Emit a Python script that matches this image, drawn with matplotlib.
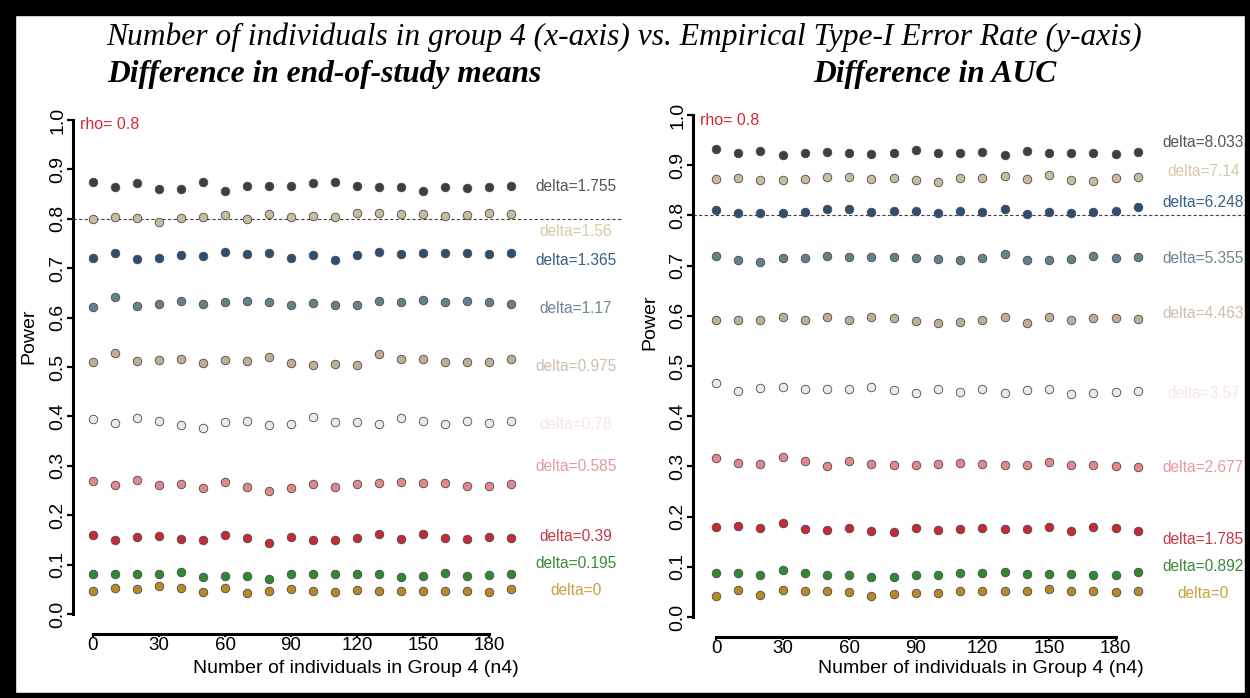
import numpy as np
import matplotlib
matplotlib.use("Agg")
import matplotlib.pyplot as plt
from matplotlib.patches import Rectangle

plt.rcParams['font.family'] = ['Liberation Sans', 'DejaVu Sans']

# sample size of group 4
n4 = [0, 10, 20, 30, 40, 50, 60, 70, 80, 90, 100, 110, 120, 130, 140, 150, 160, 170, 180, 190]

# empirical power, difference in end-of-study means
mean_deltas = ["0", "0.195", "0.39", "0.585", "0.78", "0.975", "1.17", "1.365", "1.56", "1.755"]
mean_d0 = [0.047, 0.052, 0.051, 0.056, 0.052, 0.045, 0.053, 0.043, 0.047, 0.051, 0.047, 0.045, 0.049, 0.047, 0.047, 0.047, 0.047, 0.047, 0.045, 0.050]
mean_d0195 = [0.080, 0.081, 0.080, 0.081, 0.085, 0.074, 0.077, 0.077, 0.071, 0.081, 0.081, 0.080, 0.081, 0.080, 0.074, 0.076, 0.082, 0.076, 0.079, 0.080]
mean_d039 = [0.159, 0.149, 0.156, 0.157, 0.152, 0.149, 0.159, 0.154, 0.144, 0.155, 0.150, 0.150, 0.154, 0.161, 0.152, 0.162, 0.153, 0.152, 0.156, 0.154]
mean_d0585 = [0.269, 0.261, 0.271, 0.261, 0.263, 0.256, 0.267, 0.257, 0.250, 0.256, 0.263, 0.258, 0.263, 0.265, 0.268, 0.265, 0.265, 0.259, 0.259, 0.264]
mean_d078 = [0.395, 0.387, 0.397, 0.390, 0.383, 0.377, 0.389, 0.390, 0.382, 0.384, 0.398, 0.388, 0.388, 0.385, 0.396, 0.391, 0.385, 0.390, 0.386, 0.390]
mean_d0975 = [0.510, 0.528, 0.512, 0.515, 0.516, 0.509, 0.514, 0.512, 0.520, 0.509, 0.505, 0.506, 0.505, 0.526, 0.516, 0.516, 0.510, 0.510, 0.510, 0.517]
mean_d117 = [0.621, 0.642, 0.623, 0.627, 0.634, 0.627, 0.632, 0.634, 0.632, 0.626, 0.630, 0.626, 0.626, 0.634, 0.631, 0.636, 0.631, 0.634, 0.631, 0.627]
mean_d1365 = [0.720, 0.731, 0.719, 0.721, 0.727, 0.725, 0.733, 0.729, 0.731, 0.721, 0.727, 0.717, 0.727, 0.733, 0.729, 0.730, 0.731, 0.730, 0.729, 0.730]
mean_d156 = [0.799, 0.804, 0.801, 0.794, 0.801, 0.804, 0.808, 0.799, 0.809, 0.804, 0.805, 0.804, 0.811, 0.812, 0.810, 0.810, 0.805, 0.808, 0.811, 0.810]
mean_d1755 = [0.875, 0.864, 0.872, 0.861, 0.861, 0.874, 0.857, 0.867, 0.867, 0.866, 0.873, 0.874, 0.867, 0.864, 0.865, 0.857, 0.864, 0.862, 0.865, 0.867]

# empirical power, difference in AUC
auc_deltas = ["0", "0.892", "1.785", "2.677", "3.57", "4.463", "5.355", "6.248", "7.14", "8.033"]
auc_d0 = [0.042, 0.054, 0.044, 0.054, 0.051, 0.052, 0.050, 0.042, 0.046, 0.048, 0.048, 0.051, 0.051, 0.052, 0.052, 0.056, 0.052, 0.052, 0.049, 0.052]
auc_d0892 = [0.088, 0.088, 0.084, 0.094, 0.088, 0.084, 0.084, 0.080, 0.080, 0.084, 0.084, 0.088, 0.088, 0.090, 0.085, 0.086, 0.086, 0.084, 0.084, 0.089]
auc_d1785 = [0.180, 0.181, 0.178, 0.187, 0.175, 0.174, 0.178, 0.172, 0.170, 0.177, 0.174, 0.176, 0.177, 0.175, 0.175, 0.180, 0.172, 0.179, 0.177, 0.172]
auc_d2677 = [0.316, 0.307, 0.305, 0.318, 0.310, 0.301, 0.311, 0.305, 0.302, 0.302, 0.305, 0.306, 0.305, 0.303, 0.303, 0.308, 0.303, 0.303, 0.301, 0.299]
auc_d357 = [0.466, 0.450, 0.457, 0.458, 0.454, 0.454, 0.455, 0.459, 0.452, 0.447, 0.455, 0.449, 0.455, 0.446, 0.452, 0.454, 0.444, 0.446, 0.448, 0.450]
auc_d4463 = [0.592, 0.592, 0.592, 0.597, 0.592, 0.598, 0.592, 0.597, 0.595, 0.590, 0.585, 0.587, 0.592, 0.598, 0.585, 0.597, 0.592, 0.595, 0.595, 0.594]
auc_d5355 = [0.720, 0.712, 0.707, 0.716, 0.715, 0.719, 0.717, 0.718, 0.717, 0.716, 0.713, 0.712, 0.716, 0.724, 0.711, 0.711, 0.713, 0.720, 0.716, 0.717]
auc_d6248 = [0.811, 0.805, 0.804, 0.804, 0.807, 0.812, 0.812, 0.807, 0.809, 0.809, 0.804, 0.809, 0.807, 0.813, 0.803, 0.806, 0.804, 0.807, 0.809, 0.816]
auc_d714 = [0.873, 0.875, 0.871, 0.871, 0.873, 0.876, 0.876, 0.873, 0.875, 0.871, 0.867, 0.875, 0.875, 0.879, 0.873, 0.880, 0.871, 0.869, 0.874, 0.876]
auc_d8033 = [0.933, 0.924, 0.929, 0.920, 0.924, 0.927, 0.924, 0.922, 0.924, 0.930, 0.924, 0.925, 0.927, 0.920, 0.929, 0.924, 0.924, 0.924, 0.922, 0.926]

mean_series = [mean_d0, mean_d0195, mean_d039, mean_d0585, mean_d078,
               mean_d0975, mean_d117, mean_d1365, mean_d156, mean_d1755]
auc_series = [auc_d0, auc_d0892, auc_d1785, auc_d2677, auc_d357,
              auc_d4463, auc_d5355, auc_d6248, auc_d714, auc_d8033]

# same palette for both panels, lowest delta first
point_cols = ['#b88a26', '#2f8a34', '#c52a35', '#e3878f', '#f3e6ea',
              '#bfad95', '#66808c', '#2c4f74', '#c8bc9c', '#3f3f3f']
text_cols = ['#c9a043', '#3a8a3a', '#c43a45', '#e59aa0', '#f6e4e6',
             '#cdbfae', '#6f8590', '#3a5f85', '#d6cba8', '#555555']

# where the delta= labels sit on the power scale
mean_label_y = [0.047, 0.103, 0.156, 0.298, 0.383, 0.502, 0.619, 0.715, 0.775, 0.866]
auc_label_y = [0.046, 0.100, 0.155, 0.297, 0.446, 0.604, 0.715, 0.825, 0.888, 0.946]

W, H = 1250, 698
fig = plt.figure(figsize=(W / 100, H / 100), dpi=100)


def panel(px_left, px_right, px_top, px_bot, x0_px, px_per_unit, series, deltas, label_y, ylab_x, ylab_y):
    ax = fig.add_axes([px_left / W, 1 - px_bot / H, (px_right - px_left) / W, (px_bot - px_top) / H])
    ax.set_xlim((px_left - x0_px) / px_per_unit, (px_right - x0_px) / px_per_unit)
    ax.set_ylim(0, 1)
    ax.axhline(0.8, color='#444444', lw=0.8, ls=(0, (3, 2)), zorder=1, clip_on=False)
    for vals, pc, tc, d, ly in zip(series, point_cols, text_cols, deltas, label_y):
        ax.scatter(n4, vals, s=38, color=pc, edgecolors='#4a4a4a', linewidths=0.6, zorder=3, clip_on=False)
        ax.text(219.5, ly, "delta=" + d, color=tc, fontsize=11.2, ha='center', va='center')
    ax.text(0.012, 0.99, "rho= 0.8", transform=ax.transAxes, color='#d42a36', fontsize=11.5,
            ha='left', va='center')

    for s in ['top', 'right']:
        ax.spines[s].set_visible(False)
    ax.spines['left'].set_bounds(0, 1)
    ax.spines['left'].set_linewidth(2.2)
    ax.spines['bottom'].set_bounds(0, 180)
    ax.spines['bottom'].set_linewidth(2.2)
    ax.spines['bottom'].set_position(('outward', 14.4))

    ax.set_yticks(np.arange(0, 1.01, 0.1))
    ax.set_yticklabels(["%.1f" % v for v in np.arange(0, 1.01, 0.1)], rotation=90, va='center')
    ax.set_xticks(range(0, 181, 30))
    ax.tick_params(axis='y', length=4, width=1.6, pad=0.8, labelsize=14)
    ax.tick_params(axis='x', length=2, width=1.6, pad=0, labelsize=13.5)
    ax.set_xlabel("Number of individuals in Group 4 (n4)", fontsize=14)
    ax.set_ylabel("Power", fontsize=14)
    ax.yaxis.set_label_coords((ylab_x - px_left) / (px_right - px_left), (px_bot - ylab_y) / (px_bot - px_top))
    # x label sits a little right of the 0..180 span centre, just under the tick labels
    xl_center = x0_px + 90 * px_per_unit + 65
    ax.xaxis.set_label_coords((xl_center - px_left) / (px_right - px_left),
                              -(673 - px_bot) / (px_bot - px_top))
    ax.xaxis.label.set_va('baseline')
    return ax


panel(73, 622, 120, 614, 93, 2.2, mean_series, mean_deltas, mean_label_y, 37, 336)
panel(693, 1245, 115, 617, 716, 2.22, auc_series, auc_deltas, auc_label_y, 658, 322)

title_font = dict(family='Liberation Serif', style='italic', fontsize=22.7, va='baseline', ha='center')
fig.text(624 / W, 1 - 45 / H,
         "Number of individuals in group 4 (x-axis) vs. Empirical Type-I Error Rate (y-axis)", **title_font)
fig.text(324 / W, 1 - 82 / H, "Difference in end-of-study means", weight='bold', **title_font)
fig.text(935 / W, 1 - 82 / H, "Difference in AUC", weight='bold', **title_font)

# black frame round the figure
frame = dict(color='black', transform=fig.transFigure, zorder=10)
fig.patches.append(Rectangle((0, 0), 15 / W, 1, **frame))
fig.patches.append(Rectangle((0, 1 - 15 / H), 1, 15 / H, **frame))
fig.patches.append(Rectangle((1 - 5 / W, 0), 5 / W, 1, **frame))
fig.patches.append(Rectangle((0, 0), 1, 5 / H, **frame))

fig.savefig("out.png", dpi=100)
